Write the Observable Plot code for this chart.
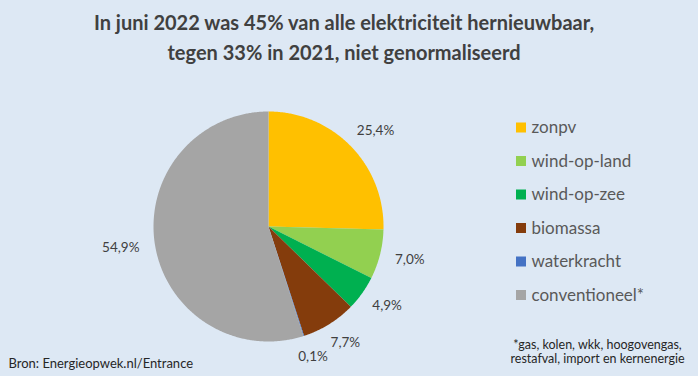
<!DOCTYPE html>
<html>
<head>
<meta charset="utf-8">
<script src="https://cdn.jsdelivr.net/npm/d3@7"></script>
<script src="https://cdn.jsdelivr.net/npm/@observablehq/plot@0.6"></script>
<style>
  body { margin: 0; }
  #chart { position: relative; width: 698px; height: 376px; background: #DDE8F4; overflow: hidden; font-family: Lato, "Open Sans", sans-serif; }
  #title { position: absolute; left: 0; top: 7px; width: 688px; text-align: center; font-weight: bold; font-size: 20px; line-height: 30px; color: #404040; z-index: 2; }
  #plot { position: absolute; left: 0; top: 0; }
</style>
</head>
<body>
<div id="chart">
  <div id="title">In juni 2022 was 45% van alle elektriciteit hernieuwbaar,<br>tegen 33% in 2021, niet genormaliseerd</div>
  <div id="plot"></div>
</div>
<script>
// ---- data ----
const categories = ["zonpv", "wind-op-land", "wind-op-zee", "biomassa", "waterkracht", "conventioneel*"];
const shares = [25.4, 7.0, 4.9, 7.7, 0.1, 54.9];
const valueLabels = ["25,4%", "7,0%", "4,9%", "7,7%", "0,1%", "54,9%"];
const colors = ["#FFC000", "#92D050", "#00B050", "#843C0C", "#4472C4", "#A5A5A5"];
const sourceText = "Bron: Energieopwek.nl/Entrance";
const noteLines = ["*gas, kolen, wkk, hoogovengas,", "restafval, import en kernenergie"];

// ---- layout ----
const W = 698, H = 376;
const cx = 268, cy = 226, R = 115;
const total = d3.sum(shares);

const piePoints = [];
const labelData = [];
let cum = 0;
categories.forEach((cat, i) => {
  const a0 = 2 * Math.PI * cum / total;
  cum += shares[i];
  const a1 = 2 * Math.PI * cum / total;
  const steps = Math.max(2, Math.ceil((a1 - a0) / (Math.PI / 360)));
  piePoints.push({cat, x: cx, y: cy});
  for (let k = 0; k <= steps; k++) {
    const a = a0 + (a1 - a0) * k / steps;
    piePoints.push({cat, x: cx + R * Math.sin(a), y: cy - R * Math.cos(a)});
  }
  piePoints.push({cat, x: cx, y: cy});
  const am = (a0 + a1) / 2;
  const s = Math.sin(am), c = Math.cos(am);
  const w = valueLabels[i].length * 7.8, h = 14;
  const rr = R + 15;
  labelData.push({
    text: valueLabels[i],
    x: cx + s * rr + s * w / 2,
    y: cy - c * rr - c * h / 2
  });
});

const legendData = categories.map((cat, i) => ({cat, y: 127.5 + i * 33.5}));
const notes = noteLines.map((t, i) => ({t, x: 597, y: 344 + i * 14}));

const plot = Plot.plot({
  width: W, height: H,
  margin: 0,
  style: {background: "transparent", fontFamily: "Lato, 'Open Sans', sans-serif"},
  x: {domain: [0, W], range: [0, W], axis: null},
  y: {domain: [0, H], range: [0, H], axis: null},
  color: {domain: categories, range: colors},
  marks: [
    Plot.line(piePoints, {x: "x", y: "y", z: "cat", fill: "cat", stroke: "none", curve: "linear"}),
    Plot.text(labelData, {x: "x", y: "y", text: "text", fill: "#404040", fontSize: 13.5}),
    Plot.rect(legendData, {x1: () => 516, x2: () => 526, y1: d => d.y - 5, y2: d => d.y + 5, fill: "cat"}),
    Plot.text(legendData, {x: () => 531, y: "y", text: "cat", textAnchor: "start", fill: "#595959", fontSize: 17}),
    Plot.text([sourceText], {x: () => 8, y: () => 363, text: d => d, textAnchor: "start", fill: "#262626", fontSize: 13}),
    Plot.text(notes, {x: "x", y: "y", text: "t", fill: "#262626", fontSize: 12.5})
  ]
});
document.getElementById("plot").appendChild(plot);
</script>
</body>
</html>
